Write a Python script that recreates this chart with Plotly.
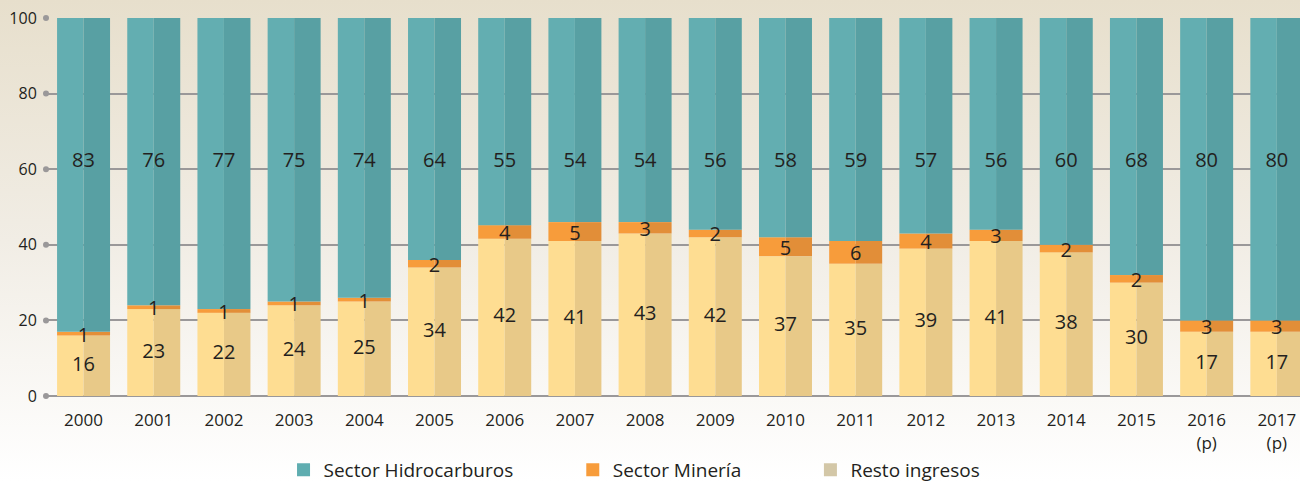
import base64
import plotly.graph_objects as go

# ---------------- data ----------------
years = ["2000", "2001", "2002", "2003", "2004", "2005", "2006", "2007", "2008",
         "2009", "2010", "2011", "2012", "2013", "2014", "2015", "2016", "2017"]
tick_labels = ["2000", "2001", "2002", "2003", "2004", "2005", "2006", "2007", "2008",
               "2009", "2010", "2011", "2012", "2013", "2014", "2015", "2016<br>(p)", "2017<br>(p)"]
resto = [16, 23, 22, 24, 25, 34, 41.6, 41, 43, 42, 37, 35, 39, 41, 38, 30, 17, 17]
mineria = [1, 1, 1, 1, 1, 2, 3.6, 5, 3, 2, 5, 6, 4, 3, 2, 2, 3, 3]
hidrocarburos = [83, 76, 77, 75, 74, 64, 54.8, 54, 54, 56, 58, 59, 57, 56, 60, 68, 80, 80]
series_names = ["Sector Hidrocarburos", "Sector Minería", "Resto ingresos"]

# ---------------- style ----------------
FONT = "Open Sans, sans-serif"
TXT = "#231f20"
W = 0.755
X0, X1 = -0.535, 17.33
HYD_LABEL_Y = 62
col_hyd = ("#63aeb1", "#58a0a3")
col_min = ("#f79c3b", "#e28e38")
col_res = ("#fedd92", "#e8c988")
legend_cols = ["#5fadb0", "#f79c3b", "#d3c7a7"]

x = list(range(len(years)))
base_min = resto
base_hyd = [r + m for r, m in zip(resto, mineria)]

fig = go.Figure()

def halves(vals, base, cols):
    for off, c in ((-W / 2, cols[0]), (0, cols[1])):
        fig.add_trace(go.Bar(x=x, y=vals, base=base, width=W / 2, offset=off,
                             marker=dict(color=c, line=dict(width=0)),
                             showlegend=False, hoverinfo="skip"))

halves(resto, [0] * len(x), col_res)
halves(mineria, base_min, col_min)
halves(hidrocarburos, base_hyd, col_hyd)

# value labels
lab_font = dict(family=FONT, size=20, color=TXT)
fig.add_trace(go.Scatter(x=x, y=[r / 2 for r in resto], mode="text",
                         text=[f"{v:.0f}" for v in resto], textfont=lab_font,
                         showlegend=False, hoverinfo="skip", cliponaxis=False))
fig.add_trace(go.Scatter(x=x, y=[b + m / 2 - 0.8 for b, m in zip(base_min, mineria)], mode="text",
                         text=[f"{v:.0f}" for v in mineria], textfont=lab_font,
                         showlegend=False, hoverinfo="skip", cliponaxis=False))
fig.add_trace(go.Scatter(x=x, y=[HYD_LABEL_Y] * len(x), mode="text",
                         text=[f"{v:.0f}" for v in hidrocarburos], textfont=lab_font,
                         showlegend=False, hoverinfo="skip", cliponaxis=False))

# tick dots on the y axis
yt = [0, 20, 40, 60, 80, 100]
fig.add_trace(go.Scatter(x=[X0] * len(yt), y=yt, mode="markers",
                         marker=dict(color="#9a9899", size=6), cliponaxis=False,
                         showlegend=False, hoverinfo="skip"))

# legends
leg_x = [0.2181, 0.4406, 0.6234]
for i, (nm, c) in enumerate(zip(series_names, legend_cols)):
    lg = "legend" if i == 0 else f"legend{i + 1}"
    fig.add_trace(go.Scatter(x=[None], y=[None], mode="markers", name=nm,
                             marker=dict(symbol="square", size=13, color=c),
                             legend=lg, showlegend=True))

leg_common = dict(orientation="h", xref="container", yref="container", y=0.025,
                  yanchor="middle", xanchor="left", bgcolor="rgba(0,0,0,0)",
                  font=dict(family=FONT, size=19, color=TXT), itemwidth=30)

svg = ('<svg xmlns="http://www.w3.org/2000/svg" width="1300" height="482" preserveAspectRatio="none">'
       '<defs><linearGradient id="g" x1="0" y1="0" x2="0" y2="1">'
       '<stop offset="0" stop-color="#e7dfcc"/><stop offset="0.5" stop-color="#f1ede5"/>'
       '<stop offset="1" stop-color="#ffffff"/></linearGradient></defs>'
       '<rect width="1300" height="482" fill="url(#g)"/></svg>')
src = "data:image/svg+xml;base64," + base64.b64encode(svg.encode()).decode()

ML, MT, MB = 46, 18, 86
PW, PH = 1300 - ML, 482 - MT - MB

fig.update_layout(
    width=1300, height=482,
    margin=dict(l=ML, r=0, t=MT, b=MB, autoexpand=False),
    barmode="overlay",
    paper_bgcolor="#ffffff", plot_bgcolor="rgba(0,0,0,0)",
    font=dict(family=FONT, color=TXT),
    images=[dict(source=src, xref="paper", yref="paper", x=-ML / PW, y=1 + MT / PH,
                 sizex=1300 / PW, sizey=482 / PH, sizing="stretch", xanchor="left",
                 yanchor="top", layer="below")],
    xaxis=dict(range=[X0, X1], tickmode="array", tickvals=x, ticktext=tick_labels,
               showgrid=False, zeroline=False, showline=False, automargin=False,
               ticklabeloverflow="allow",
               ticks="outside", ticklen=9, tickcolor="rgba(0,0,0,0)",
               tickfont=dict(family=FONT, size=17, color=TXT)),
    yaxis=dict(range=[0, 100], tickvals=yt, showgrid=True, gridcolor="#9a9899", gridwidth=2,
               zeroline=True, zerolinecolor="#9a9899", zerolinewidth=2, showline=False,
               automargin=False,
               ticks="outside", ticklen=5, tickcolor="rgba(0,0,0,0)",
               tickfont=dict(family=FONT, size=16, color=TXT)),
    legend=dict(x=leg_x[0], **leg_common),
    legend2=dict(x=leg_x[1], **leg_common),
    legend3=dict(x=leg_x[2], **leg_common),
)

fig.write_html("out.html", config={"displayModeBar": False},
               post_script="document.body.style.margin='0';document.body.style.overflow='hidden';")
